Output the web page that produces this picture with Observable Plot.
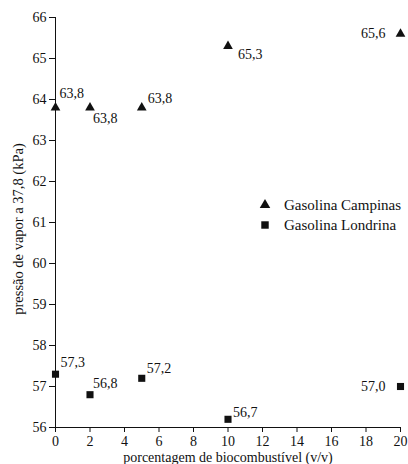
<!DOCTYPE html>
<html>
<head>
<meta charset="utf-8">
<script src="https://cdn.jsdelivr.net/npm/d3@7"></script>
<script src="https://cdn.jsdelivr.net/npm/@observablehq/plot@0.6"></script>
<style>
  html, body { margin: 0; padding: 0; background: #fff; }
  #chart { width: 408px; height: 464px; position: relative; }
</style>
</head>
<body>
<div id="chart"></div>
<script>
const xValues = [0, 2, 5, 10, 20];
const campinas = [63.8, 63.8, 63.8, 65.3, 65.6];
const londrina = [57.3, 56.8, 57.2, 56.2, 57.0];
const campinasLabels = ["63,8", "63,8", "63,8", "65,3", "65,6"];
const londrinaLabels = ["57,3", "56,8", "57,2", "56,7", "57,0"];
const seriesNames = ["Gasolina Campinas", "Gasolina Londrina"];
const xTicks = [0, 2, 4, 6, 8, 10, 12, 14, 16, 18, 20];
const yTicks = [56, 57, 58, 59, 60, 61, 62, 63, 64, 65, 66];
const xLabel = "porcentagem de biocombustível (v/v)";
const yLabel = "pressão de vapor a 37,8 (kPa)";

const ink = "#111";
const font = "'Liberation Serif', 'Times New Roman', serif";
const campPlace = [
  {dx: 4, dy: -14, a: "start"}, {dx: 3, dy: 11, a: "start"}, {dx: 6, dy: -9, a: "start"},
  {dx: 10, dy: 8, a: "start"}, {dx: -15, dy: 0, a: "end"}
];
const londPlace = [
  {dx: 5, dy: -12, a: "start"}, {dx: 3, dy: -11, a: "start"}, {dx: 5, dy: -10, a: "start"},
  {dx: 5, dy: -7, a: "start"}, {dx: -15, dy: 0, a: "end"}
];

const idx = xValues.map((_, i) => i);
const labelMarks = [];
idx.forEach(i => {
  labelMarks.push(Plot.text([i], {x: j => xValues[j], y: j => campinas[j], text: j => campinasLabels[j],
    dx: campPlace[i].dx, dy: campPlace[i].dy, textAnchor: campPlace[i].a, fontSize: 14, fill: ink}));
  labelMarks.push(Plot.text([i], {x: j => xValues[j], y: j => londrina[j], text: j => londrinaLabels[j],
    dx: londPlace[i].dx, dy: londPlace[i].dy, textAnchor: londPlace[i].a, fontSize: 14, fill: ink}));
});

const plot = Plot.plot({
  width: 408,
  height: 464,
  marginLeft: 55,
  marginRight: 8,
  marginTop: 17,
  marginBottom: 37,
  style: {fontFamily: font, fontSize: "14px", color: ink, background: "#fff"},
  x: {domain: [0, 20], ticks: xTicks, tickSize: 5, tickPadding: 4, label: null},
  y: {domain: [56, 66], ticks: yTicks, tickSize: 6, tickPadding: 3, label: null},
  marks: [
    Plot.ruleX([0], {stroke: ink}),
    Plot.ruleY([56], {stroke: ink}),
    Plot.dot(idx, {x: i => xValues[i], y: i => campinas[i], symbol: "triangle", r: 3.6, fill: ink, stroke: "none"}),
    Plot.dot(idx, {x: i => xValues[i], y: i => londrina[i], symbol: "square", r: 4, fill: ink, stroke: "none"}),
    ...labelMarks
  ]
});

document.getElementById("chart").appendChild(plot);

const svg = d3.select(plot);
// axis titles
svg.append("text").attr("x", 228).attr("y", 462).attr("text-anchor", "middle")
  .attr("font-family", font).attr("font-size", 14).attr("fill", ink).text(xLabel);
svg.append("text").attr("transform", "translate(23,229) rotate(-90)").attr("text-anchor", "middle")
  .attr("font-family", font).attr("font-size", 14.5).attr("fill", ink).text(yLabel);

// legend
const lg = svg.append("g").attr("transform", "translate(265,205)")
  .attr("font-family", font).attr("font-size", 15).attr("fill", ink);
const syms = [d3.symbolTriangle, d3.symbolSquare];
const sizes = [3.9 * 3.9 * Math.PI, 4.2 * 4.2 * Math.PI];
seriesNames.forEach((name, k) => {
  const row = lg.append("g").attr("transform", `translate(0,${k * 20})`);
  row.append("path").attr("d", d3.symbol(syms[k], sizes[k])()).attr("fill", ink);
  row.append("text").attr("x", 19).attr("dy", "0.32em").attr("text-anchor", "start").text(name);
});
</script>
</body>
</html>
